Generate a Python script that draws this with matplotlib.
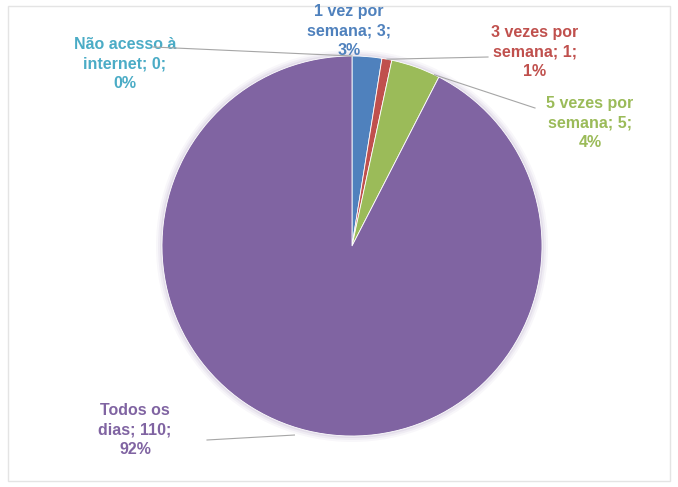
import numpy as np
import matplotlib.pyplot as plt
from matplotlib.patches import Rectangle

# data
categorias = ['Não acesso à\ninternet', '1 vez por\nsemana', '3 vezes por\nsemana',
              '5 vezes por\nsemana', 'Todos os\ndias']
valores = [0, 3, 1, 5, 110]
percentuais = ['0%', '3%', '1%', '4%', '92%']

cores = ['#4BACC6', '#4F81BD', '#C0504D', '#9BBB59', '#8064A2']

W, H = 678, 487
fig = plt.figure(figsize=(W / 100, H / 100), dpi=100)
ax = fig.add_axes([0, 0, 1, 1])

def Y(py):
    # pixel row -> data y
    return H - py

cx, cy, r = 352, Y(246), 190

# soft glow round the pie
for k, a in [(6, 0.05), (4, 0.07), (2, 0.10)]:
    ax.add_patch(plt.Circle((cx, cy), r + k, color='#8064A2', alpha=a, lw=0))

wedges, _ = ax.pie(valores, colors=cores, startangle=90, counterclock=False,
                   center=(cx, cy), radius=r, wedgeprops=dict(linewidth=0.6, edgecolor='white'),
                   frame=False)

# label positions (pixel coords) and leader-line fractions along each wedge
lab_pos = [(125, 64), (349, 31), (535, 52), (590, 123), (135, 430)]
lead_end = [(153, 47), None, (488, 57), (535, 108), (207, 440)]
lead_frac = [0.5, None, 0.5, 0.1, 0.49]
lead_r = [1.0, None, 1.0, 1.0, 1.04]

for i, w in enumerate(wedges):
    txt = f'{categorias[i]}; {valores[i]};\n{percentuais[i]}'
    x, py = lab_pos[i]
    ax.text(x, Y(py), txt, ha='center', va='center', color=cores[i],
            fontsize=11.5, fontweight='bold', family='Liberation Sans', linespacing=1.35)
    if lead_end[i] is not None:
        ang = np.deg2rad(w.theta1 + (w.theta2 - w.theta1) * lead_frac[i])
        rr = r * lead_r[i]
        sx, sy = cx + rr * np.cos(ang), cy + rr * np.sin(ang)
        ex, ey = lead_end[i]
        ax.plot([sx, ex], [sy, Y(ey)], color='#A6A6A6', lw=0.8, zorder=5)

# chart frame
ax.add_patch(Rectangle((8, Y(481)), 662, 475, fill=False, edgecolor='#E4E4E4', lw=1))

ax.set_xlim(0, W)
ax.set_ylim(0, H)
ax.set_aspect('auto')
ax.axis('off')

fig.savefig('out.png', dpi=100)
